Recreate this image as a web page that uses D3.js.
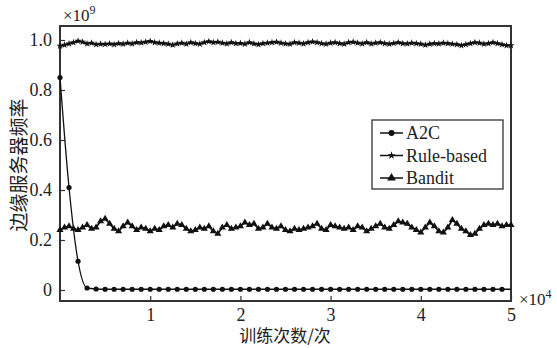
<!DOCTYPE html>
<html>
<head>
<meta charset="utf-8">
<script src="https://cdn.jsdelivr.net/npm/d3@7"></script>
<style>
  body { margin: 0; background: #fff; }
  svg { display: block; }
  .serif { font-family: "Times New Roman", Times, Tinos, "Liberation Serif", "DejaVu Serif", "Noto Serif", serif; }
  .cjk { font-family: "Noto Sans CJK SC", sans-serif; }
</style>
</head>
<body>
<svg id="chart"></svg>
<script>
// Data (x in units of 10^4 episodes, y in units of 10^9)
const a2cX = d3.range(0, 5.0001, 0.1);
const a2cY = [0.85, 0.41, 0.115, 0.008, 0.004, 0.003, 0.003, 0.003, 0.003, 0.003,
  0.003, 0.003, 0.003, 0.003, 0.003, 0.003, 0.003, 0.003, 0.003, 0.003,
  0.003, 0.003, 0.003, 0.003, 0.003, 0.003, 0.003, 0.003, 0.003, 0.003,
  0.003, 0.003, 0.003, 0.003, 0.003, 0.003, 0.003, 0.003, 0.003, 0.003,
  0.003, 0.003, 0.003, 0.003, 0.003, 0.003, 0.003, 0.003, 0.003, 0.003, 0.003];

const noisyX = d3.range(0, 5.0001, 0.05);
const ruleY = [0.976, 0.98, 0.985, 0.99, 0.996, 0.992, 0.985, 0.988, 0.982, 0.984,
  0.983, 0.985, 0.982, 0.986, 0.984, 0.988, 0.985, 0.99, 0.989, 0.992,
  0.995, 0.99, 0.988, 0.986, 0.984, 0.98, 0.985, 0.988, 0.984, 0.99,
  0.986, 0.984, 0.99, 0.994, 0.99, 0.992, 0.988, 0.985, 0.99, 0.986,
  0.987, 0.984, 0.99, 0.985, 0.982, 0.986, 0.988, 0.99, 0.992, 0.988,
  0.985, 0.984, 0.99, 0.988, 0.985, 0.99, 0.993, 0.99, 0.986, 0.984,
  0.988, 0.99, 0.986, 0.984, 0.99, 0.992, 0.988, 0.985, 0.99, 0.985,
  0.988, 0.99, 0.986, 0.984, 0.987, 0.99, 0.986, 0.985, 0.988, 0.986,
  0.984, 0.98, 0.984, 0.986, 0.985, 0.988, 0.986, 0.984, 0.982, 0.978,
  0.982, 0.986, 0.99, 0.988, 0.984, 0.986, 0.99, 0.986, 0.982, 0.978, 0.978];
const banditY = [0.24, 0.25, 0.255, 0.245, 0.24, 0.25, 0.26, 0.245, 0.25, 0.275,
  0.285, 0.265, 0.245, 0.235, 0.255, 0.27, 0.255, 0.24, 0.25, 0.245,
  0.235, 0.245, 0.24, 0.255, 0.26, 0.25, 0.265, 0.26, 0.245, 0.235,
  0.24, 0.25, 0.245, 0.255, 0.235, 0.225, 0.25, 0.26, 0.245, 0.25,
  0.255, 0.27, 0.26, 0.265, 0.245, 0.25, 0.265, 0.25, 0.245, 0.255,
  0.24, 0.235, 0.245, 0.24, 0.245, 0.25, 0.255, 0.265, 0.245, 0.24,
  0.26, 0.255, 0.25, 0.245, 0.25, 0.24, 0.255, 0.25, 0.235, 0.245,
  0.255, 0.265, 0.25, 0.245, 0.26, 0.275, 0.27, 0.265, 0.25, 0.24,
  0.23, 0.25, 0.27, 0.255, 0.235, 0.23, 0.25, 0.28, 0.265, 0.245,
  0.235, 0.22, 0.225, 0.245, 0.26, 0.265, 0.26, 0.265, 0.255, 0.26, 0.26];

const xTicks = [1, 2, 3, 4, 5];
const yTicks = [0, 0.2, 0.4, 0.6, 0.8, 1.0];
const seriesNames = ["A2C", "Rule-based", "Bandit"];

// Layout
const svgWidth = 557;
const svgHeight = 348;
const margin = { top: 26, right: 46, bottom: 47, left: 60 };
const width = svgWidth - margin.left - margin.right;
const height = svgHeight - margin.top - margin.bottom;

const svg = d3.select("#chart").attr("width", svgWidth).attr("height", svgHeight);
const g = svg.append("g").attr("transform", `translate(${margin.left},${margin.top})`);

const x = d3.scaleLinear().domain([0, 5]).range([0, width]);
const y = d3.scaleLinear().domain([-0.044, 1.056]).range([height, 0]);

// Axes with inward ticks
const xAxis = g.append("g")
  .attr("transform", `translate(0,${height})`)
  .call(d3.axisBottom(x).tickValues(xTicks).tickSizeInner(-5).tickSizeOuter(0).tickPadding(7).tickFormat(d3.format("d")));
const yAxis = g.append("g")
  .call(d3.axisLeft(y).tickValues(yTicks).tickSizeInner(-5).tickSizeOuter(0).tickPadding(8)
    .tickFormat((d) => (d === 0 ? "0" : d3.format(".1f")(d))));

[xAxis, yAxis].forEach((ax) => {
  ax.attr("font-family", null).attr("font-size", null);
  ax.select(".domain").remove();
  ax.selectAll(".tick line").attr("stroke", "#333").attr("stroke-width", 1.2);
  ax.selectAll(".tick text").attr("class", "serif").attr("font-size", 18).attr("fill", "#222");
});

// Frame
g.append("rect")
  .attr("width", width)
  .attr("height", height)
  .attr("fill", "none")
  .attr("stroke", "#333")
  .attr("stroke-width", 2);

// Lines
const a2cData = a2cX.map((v, i) => [v, a2cY[i]]);
const ruleData = noisyX.map((v, i) => [v, ruleY[i]]);
const banditData = noisyX.map((v, i) => [v, banditY[i]]);

const plot = g.append("g");

plot.append("path")
  .datum(a2cData)
  .attr("fill", "none")
  .attr("stroke", "#111")
  .attr("stroke-width", 1.3)
  .attr("d", d3.line().x((d) => x(d[0])).y((d) => y(d[1])).curve(d3.curveMonotoneX));

plot.selectAll(".a2c")
  .data(a2cData.slice(0, 50))
  .enter()
  .append("circle")
  .attr("cx", (d) => x(d[0]))
  .attr("cy", (d) => y(d[1]))
  .attr("r", 2.6)
  .attr("fill", "#111");

const straight = d3.line().x((d) => x(d[0])).y((d) => y(d[1]));

plot.append("path")
  .datum(ruleData)
  .attr("fill", "none")
  .attr("stroke", "#111")
  .attr("stroke-width", 2)
  .attr("d", straight);

const star = d3.symbol().type(d3.symbolStar).size(16);
plot.selectAll(".rule")
  .data(ruleData)
  .enter()
  .append("path")
  .attr("transform", (d) => `translate(${x(d[0])},${y(d[1])})`)
  .attr("d", star)
  .attr("fill", "#111");

plot.append("path")
  .datum(banditData)
  .attr("fill", "none")
  .attr("stroke", "#111")
  .attr("stroke-width", 1.7)
  .attr("d", straight);

const tri = d3.symbol().type(d3.symbolTriangle).size(22);
plot.selectAll(".bandit")
  .data(banditData)
  .enter()
  .append("path")
  .attr("transform", (d) => `translate(${x(d[0])},${y(d[1])})`)
  .attr("d", tri)
  .attr("fill", "#111");

// Exponent labels
const exp9 = svg.append("text").attr("class", "serif").attr("x", 63).attr("y", 21).attr("font-size", 17).attr("fill", "#222");
exp9.append("tspan").text("×10");
exp9.append("tspan").attr("font-size", 12).attr("dy", -7).text("9");

const exp4 = svg.append("text").attr("class", "serif").attr("x", 519).attr("y", 305).attr("font-size", 17).attr("fill", "#222");
exp4.append("tspan").text("×10");
exp4.append("tspan").attr("font-size", 12).attr("dy", -7).text("4");

// Axis titles
svg.append("text")
  .attr("class", "cjk")
  .attr("transform", "translate(26,165) rotate(-90)")
  .attr("text-anchor", "middle")
  .attr("font-size", 19)
  .attr("fill", "#222")
  .text("边缘服务器频率");

svg.append("text")
  .attr("class", "cjk")
  .attr("x", 285)
  .attr("y", 342)
  .attr("text-anchor", "middle")
  .attr("font-size", 17)
  .attr("fill", "#222")
  .text("训练次数/次");

// Legend
const legend = svg.append("g").attr("transform", "translate(372,120)");
legend.append("rect")
  .attr("width", 131)
  .attr("height", 69)
  .attr("fill", "#fff")
  .attr("stroke", "#333")
  .attr("stroke-width", 1.3);

const legendItem = legend.selectAll(".legend-item")
  .data(seriesNames)
  .enter()
  .append("g")
  .attr("transform", (d, i) => `translate(0,${13 + i * 22.5})`);

legendItem.append("line")
  .attr("x1", 8)
  .attr("x2", 31)
  .attr("stroke", "#111")
  .attr("stroke-width", 1.5);

legendItem.append("path")
  .attr("transform", "translate(19.5,0)")
  .attr("d", (d, i) => [d3.symbol().type(d3.symbolCircle).size(28)(),
    d3.symbol().type(d3.symbolStar).size(20)(),
    d3.symbol().type(d3.symbolTriangle).size(34)()][i])
  .attr("fill", "#111");

legendItem.append("text")
  .attr("class", "serif")
  .attr("x", 34)
  .attr("y", 6)
  .attr("font-size", 18)
  .attr("fill", "#222")
  .text((d) => d);
</script>
</body>
</html>
